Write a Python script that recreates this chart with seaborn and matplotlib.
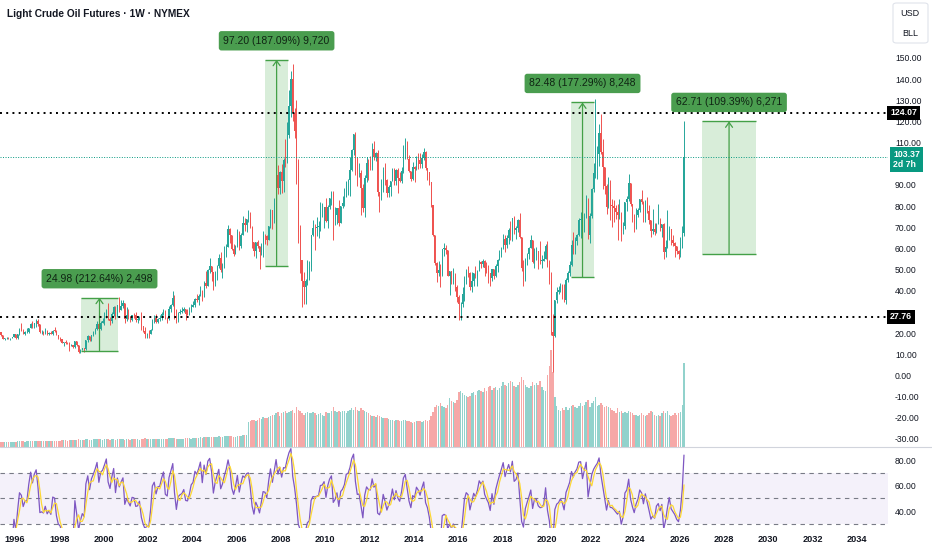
import numpy as np
import pandas as pd
import matplotlib
matplotlib.use("Agg")
import matplotlib.pyplot as plt
import seaborn as sns
from matplotlib.patches import Rectangle, FancyBboxPatch
from matplotlib.lines import Line2D

sns.set_style("white")
plt.rcParams["font.family"] = ["Liberation Sans", "DejaVu Sans"]

# ---------------- data (monthly, Apr 1995 .. Mar 2026) ----------------
first_month = "1995-04-01"
open_first = 19.6
close_px = [
    20.4, 18.9, 17.4, 17.6, 17.8, 17.5, 17.6, 18.2, 19.6,
    17.7, 19.5, 21.5, 21.2, 19.8, 20.4, 20.4, 22.3, 24.4, 23.4, 25.0, 25.9,
    24.2, 20.3, 20.4, 20.2, 20.9, 19.8, 20.1, 19.6, 21.2, 21.1, 19.0, 17.6,
    17.2, 15.4, 15.6, 15.4, 15.2, 14.2, 14.2, 13.4, 16.1, 14.4, 11.2, 12.1,
    12.8, 12.3, 16.8, 18.7, 16.8, 19.3, 20.5, 22.1, 24.5, 21.8, 25.0, 25.6,
    27.6, 30.4, 26.9, 25.7, 29.0, 32.5, 27.4, 33.1, 30.8, 32.7, 34.4, 26.8,
    28.7, 27.4, 26.3, 28.5, 28.4, 26.3, 26.4, 27.2, 23.4, 21.2, 19.4, 19.8,
    19.5, 21.7, 26.3, 27.3, 25.3, 26.9, 27.0, 28.9, 30.5, 27.2, 26.9, 31.2,
    33.5, 36.6, 31.0, 25.8, 29.6, 30.2, 30.5, 31.6, 29.2, 29.1, 30.4, 32.5,
    33.1, 36.2, 35.8, 37.4, 39.9, 37.1, 43.8, 42.1, 49.6, 51.8, 49.1, 43.5,
    48.2, 51.8, 55.4, 49.7, 52.0, 56.5, 60.6, 69.0, 66.2, 59.8, 57.3, 61.0,
    67.9, 61.4, 66.6, 71.9, 71.3, 73.9, 74.4, 70.3, 62.9, 58.7, 63.1, 61.1,
    58.1, 62.0, 65.9, 65.7, 64.0, 70.7, 78.2, 74.0, 81.7, 94.5, 88.7, 96.0,
    91.8, 101.8, 101.6, 113.5, 127.4, 140.0, 124.1, 115.5, 100.6, 67.8, 54.4, 44.6,
    41.7, 44.8, 49.7, 51.1, 66.3, 69.9, 69.5, 70.0, 70.6, 77.0, 77.3, 79.4,
    72.9, 79.7, 83.8, 86.2, 74.0, 75.6, 79.0, 71.9, 80.0, 81.4, 84.1, 91.4,
    92.2, 97.0, 106.7, 113.9, 102.7, 95.4, 95.7, 88.8, 79.2, 93.2, 100.4, 98.8,
    98.5, 107.1, 103.0, 104.9, 86.5, 85.0, 88.1, 96.5, 92.2, 86.2, 88.9, 91.8,
    97.5, 92.1, 97.2, 93.5, 92.0, 96.6, 105.0, 107.7, 102.3, 96.4, 92.7, 98.4,
    97.5, 102.6, 101.6, 99.7, 102.7, 105.4, 98.2, 96.0, 91.2, 80.5, 66.2, 53.3,
    48.2, 49.8, 47.6, 59.6, 60.3, 59.5, 47.1, 49.2, 45.1, 46.6, 41.7, 37.0,
    33.6, 33.8, 38.3, 45.9, 49.1, 48.3, 41.6, 44.7, 48.2, 46.9, 49.4, 53.7,
    52.8, 54.0, 50.6, 49.3, 48.3, 46.0, 50.2, 47.2, 51.7, 54.4, 57.4, 60.4,
    64.7, 61.6, 64.9, 68.6, 67.0, 74.2, 68.8, 69.8, 73.3, 65.3, 50.9, 45.4,
    53.8, 57.2, 60.1, 63.9, 53.5, 58.5, 58.6, 55.1, 54.1, 54.2, 55.2, 61.1,
    51.6, 44.8, 20.5, 18.8, 35.5, 39.3, 40.3, 42.6, 40.2, 35.8, 45.3, 48.5,
    52.2, 61.5, 59.2, 63.6, 66.3, 73.5, 74.0, 68.5, 75.0, 83.6, 66.2, 75.2,
    88.2, 95.7, 100.3, 104.7, 114.7, 105.8, 98.6, 89.6, 79.5, 86.5, 80.6, 80.3,
    78.9, 77.1, 75.7, 76.8, 68.1, 70.6, 81.8, 83.6, 90.8, 81.0, 76.0, 71.7,
    75.9, 78.3, 83.2, 81.9, 77.0, 81.5, 77.9, 73.6, 68.2, 69.3, 68.0, 71.7,
    72.5, 69.8, 71.5, 58.2, 60.8, 65.1, 69.3, 64.0, 62.4, 61.0, 58.6, 57.4,
    60.2, 67.3, 103.37,
]
high_px = [
    20.7, 20.5, 19.2, 17.9, 18.3, 18.2, 17.9, 18.3, 19.7,
    18.9, 19.7, 22.6, 25.0, 22.0, 20.9, 22.5, 22.6, 25.0, 25.9, 25.0, 26.6,
    26.6, 24.5, 21.3, 21.0, 22.3, 21.3, 20.5, 20.9, 21.3, 23.1, 21.4, 19.1,
    18.0, 17.1, 15.9, 16.6, 15.6, 15.6, 14.9, 14.0, 16.3, 16.2, 14.6, 12.4,
    13.1, 13.0, 16.9, 19.0, 18.8, 19.3, 20.9, 22.2, 25.6, 24.7, 25.6, 27.2,
    30.0, 31.2, 34.4, 27.5, 30.2, 33.0, 32.7, 33.1, 37.2, 35.7, 35.8, 33.5,
    32.2, 31.6, 28.2, 28.7, 29.4, 29.9, 27.9, 28.2, 30.0, 23.2, 22.9, 20.2,
    21.4, 21.9, 26.6, 28.4, 29.2, 27.0, 28.5, 30.0, 31.3, 30.9, 27.7, 32.7,
    34.0, 40.0, 38.0, 31.3, 29.8, 31.4, 32.3, 32.4, 31.3, 31.6, 32.2, 33.8,
    35.2, 36.6, 38.4, 38.3, 42.3, 40.6, 44.4, 49.4, 50.5, 55.7, 51.0, 46.5,
    49.2, 52.1, 57.6, 58.3, 53.1, 61.0, 62.3, 70.9, 69.8, 66.0, 62.0, 61.8,
    69.2, 68.3, 67.2, 75.4, 74.6, 73.9, 78.4, 77.0, 70.4, 62.0, 63.1, 64.2,
    61.4, 62.5, 68.1, 67.0, 66.5, 70.7, 78.8, 76.6, 83.9, 94.7, 99.3, 96.8,
    100.1, 102.6, 111.8, 119.9, 135.1, 143.7, 147.3, 126.4, 130.0, 102.4, 71.2, 50.5,
    49.0, 45.8, 54.7, 54.1, 66.5, 73.4, 71.6, 75.0, 72.9, 82.0, 81.5, 79.8,
    84.0, 80.5, 83.9, 87.2, 87.0, 79.4, 79.3, 83.0, 80.1, 84.9, 88.6, 92.1,
    92.6, 103.4, 106.9, 113.9, 114.8, 103.4, 100.6, 97.0, 90.5, 94.7, 103.4, 102.4,
    103.7, 109.8, 110.6, 105.5, 106.4, 85.0, 92.9, 98.3, 100.4, 93.0, 89.9, 91.0,
    98.2, 97.8, 97.4, 97.8, 96.1, 98.7, 108.9, 112.2, 110.7, 104.3, 95.3, 100.8,
    99.1, 103.8, 105.2, 105.0, 104.5, 107.7, 105.9, 98.0, 95.6, 91.5, 80.6, 66.6,
    53.6, 54.2, 52.5, 59.9, 62.6, 61.8, 59.5, 49.3, 48.7, 50.9, 48.4, 42.6,
    37.8, 34.7, 41.9, 46.8, 50.2, 51.7, 49.0, 48.8, 48.4, 51.9, 49.8, 54.5,
    54.1, 54.9, 54.6, 53.8, 52.0, 48.0, 50.4, 50.2, 52.9, 54.8, 59.1, 60.5,
    66.7, 66.2, 66.6, 69.6, 72.9, 74.5, 75.3, 70.4, 74.0, 76.9, 65.2, 54.6,
    55.4, 57.8, 60.7, 66.6, 63.9, 60.1, 60.9, 57.5, 63.4, 57.0, 58.6, 61.9,
    63.3, 54.7, 48.7, 29.1, 35.5, 41.6, 42.5, 43.8, 43.4, 43.2, 45.9, 49.4,
    53.9, 63.8, 68.0, 65.5, 67.0, 74.5, 77.0, 73.6, 76.7, 85.4, 84.0, 76.8,
    88.8, 100.5, 130.5, 108.6, 118.7, 123.7, 111.5, 97.7, 90.4, 93.6, 92.4, 83.3,
    82.7, 80.6, 81.0, 83.5, 77.3, 72.7, 81.8, 84.9, 95.0, 90.8, 80.2, 76.2,
    79.3, 79.1, 83.5, 87.7, 82.5, 82.7, 84.5, 80.4, 72.4, 78.5, 71.9, 72.1,
    80.8, 74.2, 71.6, 72.0, 64.2, 78.4, 70.5, 67.9, 66.4, 63.0, 61.4, 59.3,
    65.6, 70.5, 120.0,
]
low_px = [
    19.3, 18.7, 17.2, 16.7, 17.3, 17.1, 16.9, 17.5, 18.0,
    17.0, 17.4, 19.3, 20.9, 19.4, 19.2, 20.0, 20.2, 22.3, 22.6, 22.3, 23.0,
    23.3, 20.0, 19.6, 19.0, 19.6, 18.9, 19.0, 19.5, 19.2, 20.4, 18.9, 17.4,
    16.2, 15.3, 13.8, 15.0, 14.8, 11.4, 13.8, 12.9, 13.2, 14.0, 10.8, 10.4,
    11.8, 11.3, 12.0, 15.9, 16.5, 16.3, 18.8, 19.8, 21.5, 20.7, 21.6, 24.6,
    24.0, 27.2, 26.1, 23.8, 25.0, 28.1, 26.9, 27.8, 30.0, 30.8, 32.0, 25.0,
    25.5, 26.6, 25.3, 25.9, 27.3, 25.3, 24.8, 26.0, 21.7, 20.4, 17.5, 17.8,
    17.9, 19.4, 21.3, 25.0, 24.7, 24.6, 25.9, 26.4, 28.4, 26.5, 25.0, 26.4,
    30.2, 32.9, 26.9, 24.8, 25.1, 28.9, 29.3, 30.0, 26.0, 28.7, 28.4, 29.9,
    32.2, 32.5, 34.8, 33.5, 37.6, 35.4, 38.4, 41.4, 42.3, 48.6, 44.7, 40.3,
    42.1, 45.0, 50.9, 49.1, 46.2, 50.9, 56.0, 60.6, 62.5, 59.5, 56.3, 57.3,
    60.8, 59.5, 60.2, 66.2, 68.3, 68.0, 72.6, 69.7, 60.1, 56.6, 55.4, 60.1,
    50.5, 57.0, 56.2, 61.9, 61.8, 64.4, 69.8, 69.0, 72.0, 79.3, 85.9, 85.7,
    86.1, 86.6, 98.7, 100.5, 112.3, 122.3, 120.4, 112.0, 90.5, 62.7, 48.4, 32.4,
    33.6, 33.9, 42.7, 45.3, 49.3, 65.9, 59.5, 66.0, 65.1, 68.1, 75.0, 69.5,
    72.4, 69.5, 78.6, 80.5, 64.2, 70.9, 71.4, 70.8, 72.6, 79.1, 80.1, 84.2,
    85.1, 84.6, 96.8, 104.0, 94.6, 89.6, 94.0, 75.7, 77.1, 75.0, 91.2, 92.5,
    97.1, 97.1, 102.0, 101.2, 84.6, 77.3, 82.9, 86.8, 90.0, 84.5, 84.1, 85.0,
    91.8, 90.0, 89.8, 86.1, 91.3, 91.1, 95.6, 102.2, 102.2, 96.0, 91.8, 92.3,
    91.2, 97.0, 97.4, 97.9, 98.2, 101.7, 97.1, 92.5, 90.2, 79.4, 65.7, 52.1,
    44.2, 47.1, 42.0, 47.1, 56.5, 57.4, 47.0, 37.8, 43.2, 43.2, 39.9, 34.5,
    26.1, 26.2, 32.5, 35.2, 43.0, 46.7, 40.6, 39.2, 42.5, 46.0, 42.2, 49.9,
    50.7, 51.2, 47.0, 48.2, 43.8, 42.1, 44.4, 45.6, 46.5, 49.1, 54.5, 55.8,
    59.9, 58.1, 60.0, 62.0, 64.2, 63.6, 67.0, 64.4, 67.6, 64.8, 49.4, 42.4,
    44.4, 52.1, 55.1, 60.2, 53.0, 50.6, 54.6, 50.5, 52.8, 51.0, 55.1, 55.2,
    51.3, 43.3, 19.3, 1.5, 18.4, 34.4, 38.3, 39.5, 36.1, 34.9, 33.6, 44.1,
    47.2, 51.6, 57.3, 57.6, 61.6, 66.1, 65.0, 61.7, 67.6, 74.2, 64.4, 62.4,
    74.3, 86.6, 93.5, 92.9, 99.0, 104.6, 88.2, 85.7, 76.3, 79.3, 73.6, 70.1,
    72.5, 73.8, 64.1, 74.0, 63.6, 66.8, 69.0, 77.6, 82.6, 80.1, 72.4, 67.7,
    69.3, 74.7, 77.0, 81.0, 72.5, 72.5, 76.9, 71.5, 65.3, 66.9, 66.6, 67.1,
    71.4, 68.3, 65.2, 55.1, 56.0, 60.0, 64.2, 61.6, 61.3, 56.0, 57.2, 54.9,
    55.9, 60.6, 66.0,
]
volume_k = [
    380, 400, 390, 410, 420, 400, 430, 410, 440,
    430, 450, 470, 520, 480, 440, 460, 450, 480, 500, 470, 460,
    490, 470, 460, 450, 470, 480, 460, 480, 500, 520, 510, 500,
    520, 540, 560, 530, 520, 560, 540, 560, 600, 580, 620, 600,
    580, 600, 640, 620, 600, 590, 620, 610, 650, 640, 620, 600,
    620, 640, 660, 600, 620, 630, 600, 610, 680, 640, 620, 600,
    640, 620, 600, 620, 640, 610, 620, 600, 680, 660, 700, 640,
    660, 640, 680, 660, 640, 620, 650, 640, 660, 680, 640, 700,
    720, 760, 740, 680, 660, 680, 660, 680, 700, 720, 700, 680,
    720, 740, 760, 740, 780, 760, 780, 800, 820, 840, 800, 780,
    800, 820, 860, 840, 820, 860, 880, 900, 880, 860, 840, 820,
    880, 900, 920, 940, 960, 940, 2000, 2100, 2200, 2150, 2100, 2200,
    2300, 2250, 2400, 2300, 2350, 2400, 2500, 2600, 2550, 2700, 2800, 2500,
    2700, 2800, 2900, 2700, 2800, 2900, 3000, 2700, 3200, 3000, 2900, 2700,
    2600, 2700, 2800, 2750, 2700, 2800, 2700, 2600, 2650, 2700, 2600, 2500,
    2800, 2700, 2750, 2900, 3200, 2900, 2800, 2900, 2800, 2850, 2900, 2700,
    2900, 3000, 3100, 3000, 3200, 3000, 2900, 3100, 3000, 2900, 2800, 2700,
    2600, 2500, 2450, 2400, 2600, 2500, 2400, 2300, 2350, 2300, 2250, 2200,
    2200, 2100, 2150, 2200, 2100, 2050, 2200, 2150, 2100, 2050, 2000, 1950,
    2000, 2050, 2100, 2050, 2000, 2100, 2150, 2050, 2200, 2500, 2800, 3200,
    3400, 3300, 3500, 3300, 3200, 3100, 3400, 3900, 3700, 3600, 3500, 3800,
    4400, 4500, 4300, 4200, 4100, 4000, 4100, 4300, 4400, 4200, 4500, 4600,
    4500, 4400, 4700, 4500, 4800, 4900, 4600, 4700, 4800, 4600, 4700, 4900,
    5200, 5000, 4900, 5100, 5300, 5200, 4900, 4800, 5000, 5200, 5600, 5400,
    5000, 4800, 4700, 4900, 5200, 5000, 5100, 5000, 5300, 4800, 4600, 4500,
    5800, 6500, 7800, 6000, 4000, 3300, 3000, 2900, 3100, 3000, 3200, 3000,
    3100, 3300, 3400, 3200, 3100, 3300, 3500, 3300, 3400, 3600, 3800, 3200,
    3500, 3700, 4000, 3300, 3400, 3500, 3400, 3200, 3300, 3200, 3100, 3000,
    2900, 2700, 3100, 2800, 2900, 2700, 2800, 2700, 2900, 2800, 2700, 2600,
    2600, 2500, 2600, 2700, 2600, 2500, 2600, 2700, 2900, 2800, 2600, 2500,
    2600, 2500, 2700, 2900, 2700, 2900, 2600, 2500, 2600, 2700, 2600, 2700,
    2800, 3400, 6700,
]

# measurement tools
meas_start = [1998.98, 2007.29, 2021.10, 2027.02]
meas_end = [2000.65, 2008.33, 2022.14, 2029.45]
meas_low = [11.75, 51.95, 46.52, 57.33]
meas_high = [36.73, 149.15, 129.00, 120.04]
meas_label = ["24.98 (212.64%) 2,498", "97.20 (187.09%) 9,720",
              "82.48 (177.29%) 8,248", "62.71 (109.39%) 6,271"]

level_lines = [124.07, 27.76]
last_price = 103.37
last_countdown = "2d 7h"
title = "Light Crude Oil Futures \u00b7 1W \u00b7 NYMEX"
# 100 and 30 sit under the price badges, as in the reference
price_ticks = [v for v in range(-30, 151, 10) if v not in (100, 30)]
rsi_ticks = [40, 60, 80]
year_ticks = list(range(1996, 2035, 2))

N = len(close_px)
assert len(high_px) == N and len(low_px) == N and len(volume_k) == N

dates = pd.date_range(first_month, periods=N, freq="MS") + pd.Timedelta(days=14)
t = np.asarray(dates.year + (dates.dayofyear - 1) / 365.25, dtype=float)
close = np.array(close_px)
high = np.array(high_px)
low = np.array(low_px)
opn = np.r_[open_first, close[:-1]]
high = np.maximum(high, np.maximum(opn, close))
low = np.minimum(low, np.minimum(opn, close))
up = close >= opn

UP = "#26a69a"
DN = "#ef5350"
TXT = "#131722"

# RSI (Wilder) on monthly closes
RSI_N = 7
delta = pd.Series(close).diff()
gain = delta.clip(lower=0).ewm(alpha=1 / RSI_N, adjust=False).mean()
loss = (-delta.clip(upper=0)).ewm(alpha=1 / RSI_N, adjust=False).mean()
rsi = 100 - 100 / (1 + gain / loss)
rsi_ma = rsi.rolling(3).mean()
df_rsi = pd.DataFrame({"t": t, "rsi": rsi, "ma": rsi_ma}).iloc[1:]

# ---------------- figure ----------------
W, H = 932, 550
fig = plt.figure(figsize=(W / 100, H / 100), dpi=100)
fig.patch.set_facecolor("white")


def fr(x0, y0, x1, y1):
    return [x0 / W, 1 - y1 / H, (x1 - x0) / W, (y1 - y0) / H]


XL = (1995.323, 2035.41)

axv = fig.add_axes(fr(0, 0, 888, 447))
ax = fig.add_axes(fr(0, 0, 888, 447), sharex=axv)
axr = fig.add_axes(fr(0, 447, 888, 528), sharex=axv)
ax.set_zorder(3)
ax.patch.set_alpha(0)

# volume
bw = 1 / 12 * 0.78
vol = np.array(volume_k)
axv.bar(t[up], vol[up], width=bw, color=UP, alpha=0.5, linewidth=0)
axv.bar(t[~up], vol[~up], width=bw, color=DN, alpha=0.5, linewidth=0)
axv.set_ylim(0, 80 * 447)
axv.axis("off")

# candles
cw = 1 / 12 * 0.62
for m, col in ((up, UP), (~up, DN)):
    ax.vlines(t[m], low[m], high[m], color=col, lw=0.7, zorder=2)
    body = np.maximum(np.abs(close[m] - opn[m]), 0.3)
    ax.bar(t[m], body, bottom=np.minimum(opn[m], close[m]), width=cw,
           color=col, linewidth=0, zorder=2)

ax.set_xlim(*XL)
ax.set_ylim(-33.8, 177.4)

# level lines
for lv in level_lines:
    ax.axhline(lv, color="#000000", lw=1.4, ls=(0, (1, 2.2)), zorder=4)
    ax.text(1.0 + 2 / 888, lv, f"{lv:.2f}", transform=ax.get_yaxis_transform(),
            ha="left", va="center", fontsize=6.3, color="white", weight="bold",
            bbox=dict(boxstyle="square,pad=0.3", fc="#000000", ec="none"),
            clip_on=False, zorder=10)
ax.axhline(last_price, color="#089981", lw=0.7, ls=(0, (1, 1.6)), zorder=4)
ax.annotate(f"{last_price:.2f}\n{last_countdown}", xy=(1.0, last_price),
            xycoords=ax.get_yaxis_transform(), xytext=(5, 7), textcoords="offset pixels",
            ha="left", va="top", fontsize=6.3, color="white", weight="bold", linespacing=1.25,
            bbox=dict(boxstyle="square,pad=0.35", fc="#089981", ec="none"),
            annotation_clip=False, zorder=10)

# measurements
GR = "#43a047"
for x0, x1, lo, hi, lab in zip(meas_start, meas_end, meas_low, meas_high, meas_label):
    ax.add_patch(Rectangle((x0, lo), x1 - x0, hi - lo, facecolor="#c8e6c9",
                           alpha=0.7, edgecolor="none", zorder=1))
    ax.hlines([lo, hi], x0, x1, color=GR, lw=1.0, zorder=3)
    xm = (x0 + x1) / 2
    ax.annotate("", xy=(xm, hi), xytext=(xm, lo),
                arrowprops=dict(arrowstyle="->,head_length=0.35,head_width=0.25",
                                color=GR, lw=0.9, shrinkA=0, shrinkB=0), zorder=3)
    ax.annotate(lab, xy=(xm, hi), xytext=(0, 14), textcoords="offset pixels",
                ha="center", va="bottom", fontsize=7.5, color="#0f2413",
                bbox=dict(boxstyle="round,pad=0.45,rounding_size=0.25", fc="#4a9d4f", ec="none"),
                zorder=6)

# price scale
ax.yaxis.tick_right()
ax.set_yticks(price_ticks)
ax.set_yticklabels([f"{v:.2f}" for v in price_ticks])
ax.tick_params(axis="y", length=0, pad=5, labelsize=6.2, labelcolor=TXT)
ax.tick_params(axis="x", bottom=False, labelbottom=False)
for s in ax.spines.values():
    s.set_visible(False)

# RSI pane
axr.axhspan(30, 70, color="#7e57c2", alpha=0.08, lw=0)
for lv in (70, 50, 30):
    axr.axhline(lv, color="#787b86", lw=0.8, ls=(0, (4, 4)))
sns.lineplot(data=df_rsi, x="t", y="rsi", ax=axr, color="#7e57c2", lw=0.9)
sns.lineplot(data=df_rsi, x="t", y="ma", ax=axr, color="#fdd835", lw=0.9)
axr.set_ylim(26.67, 90.2)
axr.set_xlim(*XL)
axr.yaxis.tick_right()
axr.set_yticks(rsi_ticks)
axr.set_yticklabels([f"{v:.2f}" for v in rsi_ticks])
axr.tick_params(axis="y", length=0, pad=5, labelsize=6.2, labelcolor=TXT)
axr.set_xticks(year_ticks)
axr.set_xticklabels([str(y) for y in year_ticks])
axr.tick_params(axis="x", length=0, pad=5, labelsize=6.6, labelcolor=TXT)
for lab in axr.get_xticklabels():
    lab.set_fontweight("bold")
axr.set_xlabel("")
axr.set_ylabel("")
for s in axr.spines.values():
    s.set_visible(False)

# separators / header
fig.add_artist(Line2D([0, 1], [1 - 447 / H] * 2, color="#d1d4dc", lw=0.8))
fig.text(7 / W, 1 - 14 / H, title, fontsize=7.3, weight="bold", color=TXT, va="center", ha="left")
fig.add_artist(FancyBboxPatch((893 / W, 1 - 43 / H), 35 / W, 40 / H,
                              boxstyle="round,pad=0,rounding_size=0.004",
                              fc="white", ec="#e0e3eb", lw=0.8, transform=fig.transFigure))
fig.text(910 / W, 1 - 13 / H, "USD", fontsize=6.5, color=TXT, ha="center", va="center")
fig.text(910 / W, 1 - 34 / H, "BLL", fontsize=6.5, color=TXT, ha="center", va="center")

fig.savefig("out.png", dpi=100, facecolor="white")
